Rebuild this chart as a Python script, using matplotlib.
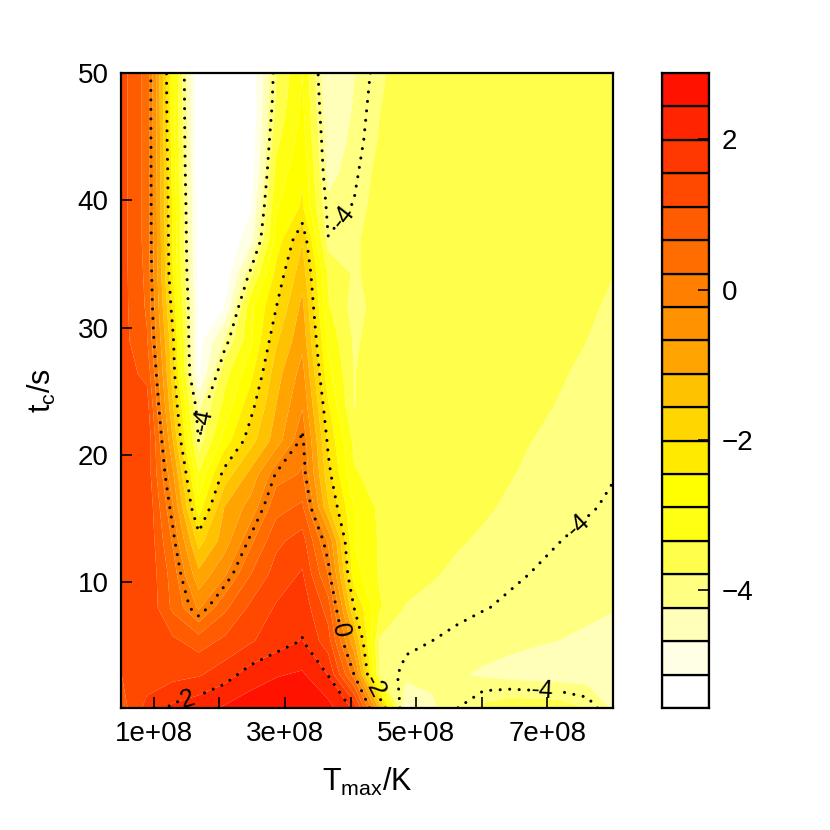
import numpy as np
import matplotlib
matplotlib.use("Agg")
import matplotlib.pyplot as plt

plt.rcParams['font.family'] = ['Liberation Sans', 'DejaVu Sans']
plt.rcParams['mathtext.default'] = 'regular'

# ---------------- data ----------------
T_max = [5.0e7, 8.947e7, 1.2895e8, 1.6842e8, 2.0789e8, 2.4737e8, 2.8684e8,
         3.2632e8, 3.6579e8, 4.0526e8, 4.4474e8, 4.8421e8, 5.2368e8, 5.6316e8,
         6.0263e8, 6.4211e8, 6.8158e8, 7.2105e8, 7.6053e8, 8.0e8]
t_c = [0.1, 2.726, 5.353, 7.979, 10.605, 13.232, 15.858, 18.484, 21.111, 23.737,
       26.363, 28.989, 31.616, 34.242, 36.868, 39.495, 42.121, 44.747, 47.374, 50.0]

# rows listed from t_c = 50 (top) down to t_c = 0.1 (bottom)
z_rows_top_down = [
    [1.3, 0.5, -2.8, -5.5, -5.56, -5.5, -3.8, -2.9, -4.7, -4.25, -3.85, -3.6, -3.55, -3.55, -3.55, -3.55, -3.55, -3.55, -3.55, -3.55],
    [1.3, 0.5, -2.75, -5.5, -5.56, -5.5, -3.7, -2.8, -4.6, -4.2, -3.8, -3.6, -3.55, -3.55, -3.55, -3.55, -3.55, -3.55, -3.55, -3.55],
    [1.3, 0.5, -2.7, -5.5, -5.56, -5.5, -3.45, -2.7, -4.45, -4.15, -3.75, -3.58, -3.55, -3.55, -3.55, -3.55, -3.55, -3.55, -3.55, -3.55],
    [1.3, 0.5, -2.6, -5.5, -5.56, -5.45, -3.2, -2.5, -4.35, -4.07, -3.65, -3.56, -3.55, -3.55, -3.55, -3.55, -3.55, -3.55, -3.55, -3.58],
    [1.3, 0.5, -2.55, -5.4, -5.56, -5.2, -2.95, -2.4, -4.14, -3.98, -3.6, -3.55, -3.55, -3.55, -3.55, -3.55, -3.55, -3.55, -3.57, -3.62],
    [1.3, 0.5, -2.5, -5.35, -5.56, -4.85, -2.7, -1.6, -3.98, -3.85, -3.6, -3.55, -3.55, -3.55, -3.55, -3.55, -3.55, -3.56, -3.6, -3.7],
    [1.3, 0.55, -2.45, -5.3, -5.5, -3.9, -2.3, -1.3, -3.4, -3.85, -3.6, -3.55, -3.55, -3.55, -3.55, -3.55, -3.56, -3.58, -3.65, -3.78],
    [1.3, 0.6, -2.2, -5.2, -5.125, -3.04, -2.0, -1.0, -3.3, -3.95, -3.6, -3.55, -3.55, -3.55, -3.55, -3.56, -3.6, -3.65, -3.72, -3.86],
    [1.3, 0.7, -1.9, -5.3, -4.2, -3.0, -1.63, -0.8, -3.0, -3.85, -3.6, -3.55, -3.55, -3.55, -3.56, -3.58, -3.63, -3.72, -3.79, -3.9],
    [1.3, 1.0, -1.75, -5.2, -3.5, -2.6, -1.3, -0.5, -2.75, -3.8, -3.6, -3.55, -3.55, -3.56, -3.58, -3.63, -3.69, -3.76, -3.86, -3.93],
    [1.3, 1.3, -1.5, -4.3, -3.19, -2.15, -1.1, -0.25, -2.39, -3.8, -3.6, -3.55, -3.55, -3.57, -3.62, -3.67, -3.72, -3.82, -3.9, -3.95],
    [1.3, 1.5, -1.1, -4.02, -2.7, -1.75, -0.9, 0.1, -2.1, -3.45, -3.55, -3.55, -3.57, -3.6, -3.65, -3.72, -3.8, -3.87, -3.93, -3.97],
    [1.3, 1.4, -0.6, -3.3, -1.82, -1.0, 0.05, 0.25, -1.85, -3.3, -3.5, -3.55, -3.6, -3.65, -3.7, -3.77, -3.85, -3.9, -3.95, -3.99],
    [1.3, 1.5, -0.2, -2.7, -1.1, -0.5, 0.5, 0.75, -1.5, -2.9, -3.45, -3.55, -3.62, -3.68, -3.75, -3.83, -3.9, -3.95, -3.98, -4.03],
    [1.3, 1.5, 0.15, -1.74, -0.9, 0.1, 1.0, 1.3, -0.3, -2.9, -3.4, -3.55, -3.65, -3.76, -3.83, -3.9, -3.96, -4.0, -4.05, -4.1],
    [1.3, 1.5, 0.45, -1.0, -0.3, 0.65, 1.3, 1.6, 0.2, -2.7, -3.4, -3.6, -3.76, -3.85, -3.92, -3.97, -4.01, -4.07, -4.12, -4.17],
    [1.3, 1.5, 0.56, -0.3, 0.56, 1.2, 1.6, 1.85, 0.9, -2.0, -3.3, -3.82, -3.88, -3.95, -3.99, -4.03, -4.08, -4.13, -4.18, -4.22],
    [1.2, 1.4, 1.2, 0.9, 1.2, 1.5, 1.8, 2.02, 1.3, -1.0, -3.85, -3.95, -4.0, -4.05, -4.1, -4.15, -4.2, -4.24, -4.28, -4.32],
    [1.1, 1.3, 1.4, 1.5, 1.8, 2.2, 2.4, 2.5, 1.98, 0.0, -3.85, -4.07, -4.15, -4.2, -4.28, -4.35, -4.4, -4.42, -4.42, -4.4],
    [0.9, 1.7, 2.1, 2.3, 2.5, 2.7, 2.85, 2.85, 2.6, 1.9, -1.27, -4.8, -4.3, -4.0, -3.7, -3.55, -3.55, -3.6, -3.8, -4.3],
]

fill_levels = [-5.57, -5.125, -4.68, -4.235, -3.79, -3.345, -2.9, -2.455, -2.01,
               -1.565, -1.12, -0.675, -0.23, 0.215, 0.66, 1.105, 1.55, 1.995,
               2.44, 2.885]
# colours of the 19 bands, lowest band first
fill_colors = ['#FFFFFF', '#FFFFE6', '#FFFFB9', '#FFFF82', '#FFFF4B', '#FFFF14',
               '#FFFF00', '#FFEA00', '#FFD600', '#FFC200', '#FFA400', '#FF9200',
               '#FF8000', '#FF6D00', '#FF5B00', '#FF4900', '#FF3700', '#FF2500',
               '#FF1200']
line_levels = [-4, -2, 0, 2]
label_spots = [(1.83e8, 22.7), (3.95e8, 38.4), (7.50e8, 14.3), (6.93e8, 1.4),
               (3.85e8, 6.2), (4.40e8, 1.9), (1.49e8, 1.1)]

x_ticks = [1e8, 2e8, 3e8, 4e8, 5e8, 6e8, 7e8]
x_tick_labels = ['1e+08', '', '3e+08', '', '5e+08', '', '7e+08']
y_ticks = [10, 20, 30, 40, 50]
key_ticks = [-4, -2, 0, 2]

# ---------------- figure ----------------
Z = np.array(z_rows_top_down)[::-1]
W = H = 830
fig = plt.figure(figsize=(8.3, 8.3), dpi=100)

ax = fig.add_axes([121 / W, 1 - 708 / H, 492 / W, 635 / H])
ax.contourf(T_max, t_c, Z, levels=fill_levels, colors=fill_colors, antialiased=True)
cs = ax.contour(T_max, t_c, Z, levels=line_levels, colors='black', linewidths=2.2)
cs.set_linestyle((0, (0.01, 3.1)))
cs.set_capstyle('round')
ax.clabel(cs, fmt='%g', fontsize=18, inline=True, inline_spacing=3,
          manual=label_spots)

ax.set_xlim(T_max[0], T_max[-1])
ax.set_ylim(t_c[0], t_c[-1])
ax.set_xticks(x_ticks)
ax.set_xticklabels(x_tick_labels)
ax.set_yticks(y_ticks)
ax.tick_params(direction='in', length=8, width=1.2, labelsize=20, pad=9)
for s in ax.spines.values():
    s.set_linewidth(1.6)
ax.set_xlabel('$T_{max}$/K', fontsize=22, labelpad=14)
ax.set_ylabel('$t_c$/s', fontsize=22, labelpad=14)

# colour key
kax = fig.add_axes([662 / W, 1 - 708 / H, 47 / W, 635 / H])
bottoms = fill_levels[:-1]
heights = np.diff(fill_levels)
kax.bar([0.5] * len(bottoms), heights, bottom=bottoms, width=1.0,
        color=fill_colors, edgecolor='black', linewidth=1.6)
kax.set_xlim(0, 1)
kax.set_ylim(fill_levels[0], fill_levels[-1])
kax.set_xticks([])
kax.yaxis.tick_right()
kax.set_yticks(key_ticks)
kax.tick_params(axis='y', direction='in', length=8, width=1.2, labelsize=20, pad=9)
for s in kax.spines.values():
    s.set_linewidth(1.6)

fig.savefig('out.png', dpi=100)
